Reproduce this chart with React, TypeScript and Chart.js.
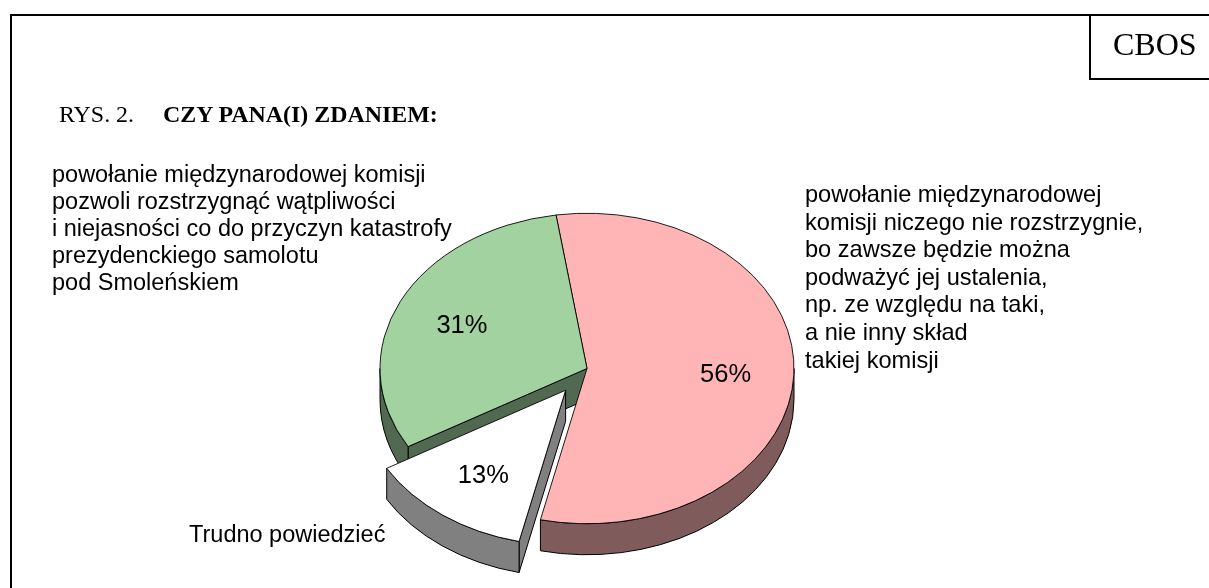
import React, { useEffect, useRef } from "react";
import { Chart, registerables } from "chart.js";

Chart.register(...registerables);

const categories = ["powołanie międzynarodowej komisji niczego nie rozstrzygnie", "Trudno powiedzieć", "powołanie międzynarodowej komisji pozwoli rozstrzygnąć"];
const values = [56, 13, 31];
const topColors = ["#FFB5B5", "#FFFFFF", "#A1D29F"];
const wallColors = ["#805B5B", "#808080", "#516950"];
const explode = [0, 36, 0];
const leftLines = ["powołanie międzynarodowej komisji", "pozwoli rozstrzygnąć wątpliwości", "i niejasności co do przyczyn katastrofy", "prezydenckiego samolotu", "pod Smoleńskiem"];
const rightLines = ["powołanie międzynarodowej", "komisji niczego nie rozstrzygnie,", "bo zawsze będzie można", "podważyć jej ustalenia,", "np. ze względu na taki,", "a nie inny skład", "takiej komisji"];
const bottomLabel = "Trudno powiedzieć";
const figureLabel = "RYS. 2.";
const figureTitle = "CZY PANA(I) ZDANIEM:";
const brand = "CBOS";

const TILT = 0.75;
const DEPTH = 31;
const CY = 368.5;

const pie3d = {
  id: "pie3d",
  afterDatasetsUpdate(chart: any) {
    const arcs = chart.getDatasetMeta(0).data;
    arcs.forEach((arc: any, i: number) => {
      const mid = (arc.startAngle + arc.endAngle) / 2;
      arc.x += Math.cos(mid) * explode[i];
      arc.y += Math.sin(mid) * explode[i];
    });
  },
  beforeDatasetsDraw(chart: any) {
    const ctx = chart.ctx;
    const arcs = chart.getDatasetMeta(0).data;
    ctx.save();
    ctx.lineWidth = 1;
    ctx.strokeStyle = "#000";
    ctx.lineJoin = "round";
    [0, 2, 1].forEach((i) => {
      const a = arcs[i];
      const R = a.outerRadius;
      const x = a.x;
      const y = CY + (a.y - CY) * TILT;
      ctx.fillStyle = wallColors[i];
      const face = (ang: number) => {
        const px = x + R * Math.cos(ang);
        const py = y + R * TILT * Math.sin(ang);
        ctx.beginPath();
        ctx.moveTo(x, y);
        ctx.lineTo(px, py);
        ctx.lineTo(px, py + DEPTH);
        ctx.lineTo(x, y + DEPTH);
        ctx.closePath();
        ctx.fill();
        ctx.stroke();
      };
      if (Math.cos(a.startAngle) < 0) face(a.startAngle);
      if (Math.cos(a.endAngle) > 0) face(a.endAngle);
      const from = Math.max(a.startAngle, 0);
      const to = Math.min(a.endAngle, Math.PI);
      if (to > from) {
        ctx.beginPath();
        ctx.ellipse(x, y, R, R * TILT, 0, from, to);
        ctx.ellipse(x, y + DEPTH, R, R * TILT, 0, to, from, true);
        ctx.closePath();
        ctx.fill();
        ctx.stroke();
      }
    });
    ctx.restore();
    ctx.save();
    ctx.translate(0, CY);
    ctx.scale(1, TILT);
    ctx.translate(0, -CY);
  },
  afterDatasetsDraw(chart: any) {
    const ctx = chart.ctx;
    ctx.restore();
    const arcs = chart.getDatasetMeta(0).data;
    ctx.save();
    ctx.font = '25.5px "Liberation Sans", Arial, sans-serif';
    ctx.fillStyle = "#000";
    ctx.textAlign = "center";
    ctx.textBaseline = "middle";
    arcs.forEach((a: any, i: number) => {
      const mid = (a.startAngle + a.endAngle) / 2;
      const r = a.outerRadius * 0.67;
      const x = a.x + r * Math.cos(mid);
      const y = CY + (a.y + r * Math.sin(mid) - CY) * TILT;
      ctx.fillText(values[i] + "%", x, y + 2.5);
    });
    ctx.restore();
  },
};

const sans = '"Liberation Sans", Arial, sans-serif';
const serif = '"Liberation Serif", "Times New Roman", serif';

function Line(props: { x: number; y: number; size: number; font: string; bold?: boolean; children: string }) {
  return (
    <div
      style={{
        position: "absolute",
        left: props.x,
        top: props.y,
        fontFamily: props.font,
        fontSize: props.size,
        fontWeight: props.bold ? 700 : 400,
        lineHeight: "30px",
        whiteSpace: "pre",
        color: "#000",
      }}
    >
      {props.children}
    </div>
  );
}

function Rule(props: { x: number; y: number; w: number; h: number }) {
  return <div style={{ position: "absolute", left: props.x, top: props.y, width: props.w, height: props.h, background: "#000" }} />;
}

export default function App() {
  const ref = useRef<HTMLCanvasElement>(null);
  useEffect(() => {
    const chart = new Chart(ref.current!, {
      type: "pie",
      data: {
        labels: categories,
        datasets: [
          {
            data: values,
            backgroundColor: topColors,
            borderColor: "#000",
            borderWidth: 1,
            clip: false,
          } as any,
        ],
      },
      options: {
        responsive: false,
        animation: false,
        rotation: -8.6,
        radius: 207,
        layout: { padding: { left: 0, right: 35, top: 149, bottom: 0 } },
        plugins: { legend: { display: false }, tooltip: { enabled: false } },
      },
      plugins: [pie3d],
    } as any);
    return () => chart.destroy();
  }, []);
  return (
    <div style={{ position: "absolute", left: 0, top: 0, width: 1209, height: 588, overflow: "hidden", background: "#fff" }}>
      <canvas ref={ref} width={1209} height={588} style={{ position: "absolute", left: 0, top: 0, display: "block" }} />
      <Rule x={10} y={14} w={1199} h={2} />
      <Rule x={10} y={14} w={2} h={574} />
      <Rule x={1089} y={14} w={2} h={66} />
      <Rule x={1089} y={78} w={120} h={2} />
      <Line x={1113} y={29} size={32} font={serif}>{brand}</Line>
      <Line x={59} y={99} size={23.9} font={serif}>{figureLabel}</Line>
      <Line x={163} y={99} size={23.9} font={serif} bold>{figureTitle}</Line>
      {leftLines.map((t, i) => (
        <Line key={i} x={52} y={159 + i * 27} size={23.5} font={sans}>{t}</Line>
      ))}
      {rightLines.map((t, i) => (
        <Line key={i} x={805} y={179 + i * 27.6} size={23.6} font={sans}>{t}</Line>
      ))}
      <Line x={189} y={519} size={23.5} font={sans}>{bottomLabel}</Line>
    </div>
  );
}
